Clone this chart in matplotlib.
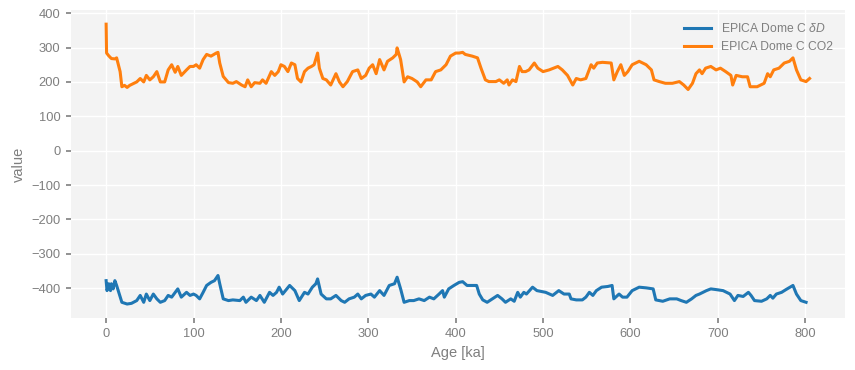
import matplotlib
matplotlib.use("Agg")
import matplotlib.pyplot as plt

# ---- data ----
co2_age = [0, 0.5, 3, 6, 10, 12, 16, 18, 21, 24, 27, 31, 35, 39, 43, 46, 50, 54, 58, 62, 67, 71,
           75, 79, 82, 86, 92, 96, 100, 103, 107, 111, 115, 120, 126, 128, 130, 134, 140, 145,
           149, 155, 159, 162, 166, 170, 176, 179, 183, 189, 193, 197, 200, 204, 208, 212, 216,
           219, 223, 227, 231, 235, 238, 242, 244, 248, 252, 257, 263, 267, 271, 276, 282, 288,
           292, 297, 301, 305, 309, 313, 318, 322, 328, 332, 333, 337, 341, 345, 350, 356, 360,
           366, 372, 377, 383, 389, 394, 400, 404, 408, 411, 419, 425, 429, 434, 438, 446, 450,
           455, 459, 461, 465, 469, 473, 476, 480, 484, 490, 494, 500, 507, 517, 522, 528, 534,
           538, 543, 549, 555, 558, 562, 568, 578, 581, 585, 589, 593, 597, 602, 610, 618, 624,
           627, 633, 640, 648, 656, 661, 666, 671, 675, 679, 682, 686, 692, 698, 703, 709, 715,
           717, 721, 728, 734, 737, 745, 753, 757, 760, 764, 770, 776, 782, 786, 790, 795, 801,
           805]
co2_val = [368, 284, 276, 268, 267, 270, 230, 186, 190, 184, 190, 195, 200, 210, 200, 219, 206,
           215, 230, 200, 200, 235, 250, 228, 245, 219, 235, 245, 245, 250, 240, 265, 280, 275,
           284, 286, 255, 216, 198, 196, 201, 191, 186, 206, 186, 198, 196, 206, 196, 230, 219,
           230, 250, 245, 230, 255, 250, 210, 200, 230, 240, 245, 250, 284, 240, 210, 206, 191,
           224, 200, 186, 201, 230, 235, 210, 219, 240, 250, 224, 265, 235, 260, 270, 280, 299,
           265, 200, 215, 210, 200, 186, 206, 206, 230, 235, 250, 275, 284, 284, 286, 280, 275,
           270, 240, 206, 201, 201, 206, 196, 206, 191, 206, 201, 245, 230, 230, 235, 255, 240,
           230, 235, 245, 235, 219, 191, 210, 206, 210, 250, 240, 255, 257, 255, 206, 230, 250,
           219, 230, 250, 260, 250, 235, 206, 201, 196, 196, 201, 191, 178, 196, 224, 235, 224,
           240, 245, 235, 240, 230, 219, 191, 219, 215, 215, 186, 186, 196, 224, 215, 235, 240,
           255, 260, 270, 235, 206, 201, 210]

dD_age = [0, 1, 3, 5, 6, 8, 10, 12, 15, 18, 24, 29, 35, 39, 43, 46, 50, 54, 58, 62, 67, 71, 75,
          79, 82, 86, 92, 96, 100, 103, 107, 111, 115, 120, 124, 128, 130, 134, 140, 145, 153,
          157, 160, 166, 172, 176, 181, 187, 191, 195, 198, 202, 210, 216, 221, 227, 231, 236,
          240, 242, 246, 252, 257, 263, 269, 273, 278, 284, 288, 292, 297, 303, 307, 313, 318,
          324, 330, 333, 337, 341, 347, 352, 358, 364, 370, 375, 381, 385, 387, 392, 398, 404,
          408, 413, 419, 424, 427, 431, 436, 442, 448, 453, 457, 463, 467, 471, 474, 478, 481,
          488, 493, 503, 511, 518, 524, 530, 532, 538, 545, 549, 553, 557, 561, 567, 574, 579,
          581, 587, 591, 596, 602, 610, 618, 626, 629, 637, 645, 653, 658, 664, 670, 675, 679,
          687, 692, 698, 706, 714, 719, 723, 729, 735, 738, 742, 750, 756, 760, 763, 767, 773,
          778, 786, 790, 795, 801]
dD_val = [-378, -407, -387, -407, -387, -402, -378, -392, -417, -441, -446, -444, -436, -421,
          -441, -417, -436, -417, -431, -441, -436, -421, -426, -412, -402, -426, -412, -421,
          -417, -421, -431, -412, -392, -383, -378, -363, -387, -431, -436, -434, -436, -426,
          -441, -426, -436, -421, -441, -412, -421, -412, -397, -417, -392, -407, -436, -412,
          -417, -397, -387, -373, -417, -431, -431, -421, -436, -441, -431, -426, -417, -431,
          -421, -417, -426, -407, -421, -392, -387, -368, -402, -441, -436, -436, -431, -436,
          -426, -431, -417, -407, -426, -402, -392, -383, -381, -392, -392, -392, -417, -434,
          -441, -431, -421, -431, -441, -431, -438, -412, -426, -412, -417, -397, -407, -412,
          -421, -407, -417, -417, -431, -434, -434, -426, -412, -421, -407, -397, -395, -392,
          -431, -417, -426, -426, -407, -397, -399, -402, -434, -438, -431, -431, -436, -441,
          -431, -421, -417, -407, -402, -404, -407, -417, -436, -421, -424, -412, -421, -436,
          -438, -431, -421, -429, -417, -412, -404, -392, -417, -436, -441]

labels = ["EPICA Dome C $\\delta D$", "EPICA Dome C CO2"]
colors = ["#1f77b4", "#ff7f0e"]

gray = "#7f7f7f"
plt.rcParams["font.family"] = ["Liberation Sans", "DejaVu Sans"]
plt.rcParams["mathtext.fontset"] = "custom"
plt.rcParams["mathtext.it"] = "Liberation Sans:italic"
plt.rcParams["mathtext.rm"] = "Liberation Sans"

fig = plt.figure(figsize=(8.55, 3.7), dpi=100)
ax = fig.add_axes([0.083, 0.1405, 0.905, 0.832])
ax.set_facecolor("#f3f3f3")
for s in ax.spines.values():
    s.set_visible(False)
ax.grid(True, color="white", lw=1.0)
ax.set_axisbelow(True)

ax.plot(dD_age, dD_val, color=colors[0], lw=2.2, label=labels[0])
ax.plot(co2_age, co2_val, color=colors[1], lw=2.2, label=labels[1])

ax.set_xticks([0, 100, 200, 300, 400, 500, 600, 700, 800])
ax.set_yticks([-400, -300, -200, -100, 0, 100, 200, 300, 400])
ax.tick_params(axis="both", colors=gray, labelcolor=gray, labelsize=9.3,
               length=3.5, width=1.2, direction="out", pad=4)
ax.set_xlabel("Age [ka]", color=gray, fontsize=10.5)
ax.set_ylabel("value", color=gray, fontsize=10.5)

leg = ax.legend(loc="upper right", frameon=False, fontsize=8.7, handlelength=2.2,
                borderaxespad=0.6)
for t in leg.get_texts():
    t.set_color(gray)

fig.savefig("out.png", dpi=100)
